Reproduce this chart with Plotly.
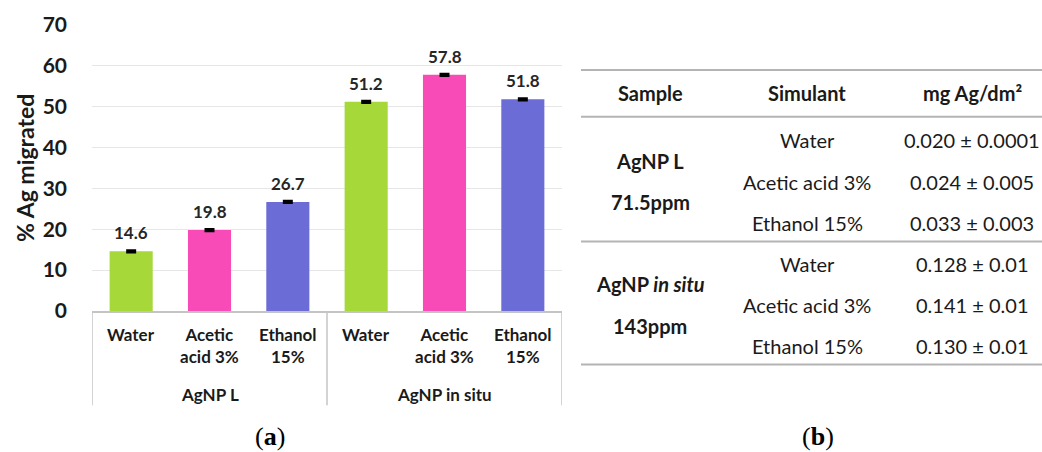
import plotly.graph_objects as go

# ---- data ----
samples = ["AgNP L", "AgNP in situ"]
simulant_ticks = ["Water", "Acetic<br>acid 3%", "Ethanol<br>15%"]
ag_migrated = [14.6, 19.8, 26.7, 51.2, 57.8, 51.8]
ag_error = [0.15, 0.15, 0.15, 0.15, 0.15, 0.15]
bar_colors = ["#A6D83A", "#F84BB8", "#6C6CD6"]
y_ticks = [0, 10, 20, 30, 40, 50, 60, 70]

table_header = ["Sample", "Simulant", "mg Ag/dm²"]
table_samples = ["<b>AgNP L</b>", "<b>AgNP <i>in situ</i></b>"]
table_conc = ["<b>71.5ppm</b>", "<b>143ppm</b>"]
table_simulants = ["Water", "Acetic acid 3%", "Ethanol 15%"]
table_mg = ["0.020 ± 0.0001", "0.024 ± 0.005", "0.033 ± 0.003",
            "0.128 ± 0.01", "0.141 ± 0.01", "0.130 ± 0.01"]

# ---- page geometry (pixels) ----
W, H = 1042, 452
L, R, T, B = 92, 562, 25, 311.5
FONT = "Lato"
TXT = "#1a1a1a"
GRID = "#e6e6e6"
RULE = "#c4c4c4"


def xp(px):
    return (px - L) / (R - L)


def yp(py):
    return (B - py) / (B - T)


def label(x, y, text, size, xref="paper", yref="paper", family=FONT,
          color=TXT, **kw):
    d = dict(x=x, y=y, xref=xref, yref=yref, text=text, showarrow=False,
             xanchor="center", yanchor="middle",
             font=dict(family=family, size=size, color=color))
    d.update(kw)
    return d


n_sim = len(simulant_ticks)
xs = list(range(len(ag_migrated)))
colors = [bar_colors[i % n_sim] for i in xs]

fig = go.Figure()
fig.add_trace(go.Bar(
    x=xs, y=ag_migrated,
    marker=dict(color=colors, line=dict(width=0)),
    width=0.55,
    error_y=dict(type="data", array=ag_error, visible=True,
                 color="#000000", thickness=3, width=5),
    hoverinfo="skip",
))

annotations = []
shapes = []

# value labels above bars
for x, v in zip(xs, ag_migrated):
    annotations.append(label(x, v, f"<b>{v:.1f}</b>", 17, xref="x", yref="y",
                             yanchor="bottom", yshift=6, color="#262626"))

# simulant tick labels and sample group labels
for x in xs:
    annotations.append(label(x, yp(323), f"<b>{simulant_ticks[x % n_sim]}</b>",
                             17, xref="x", yanchor="top"))
for g, name in enumerate(samples):
    cx = g * n_sim + (n_sim - 1) / 2
    annotations.append(label(cx, yp(395), f"<b>{name}</b>", 17, xref="x"))

# group divider lines below the axis
for g in range(len(samples) + 1):
    xb = g * n_sim - 0.5
    shapes.append(dict(type="line", xref="x", yref="paper", x0=xb, x1=xb,
                       y0=0, y1=yp(406), line=dict(color=RULE, width=1.5)))

# y-axis title
annotations.append(label(xp(25), 0.5, "<b>% Ag migrated</b>", 23, textangle=-90))

# panel letters
annotations.append(label(xp(270), yp(437), "(<b>a</b>)", 26,
                         family="Liberation Serif", color="#000"))
annotations.append(label(xp(818), yp(437), "(<b>b</b>)", 26,
                         family="Liberation Serif", color="#000"))

# ---- table ----
col_x = [650, 807, 972]
tab_x0, tab_x1 = 581, 1042
for y_line in [70, 117, 242, 365]:
    shapes.append(dict(type="line", xref="paper", yref="paper",
                       x0=xp(tab_x0), x1=xp(tab_x1), y0=yp(y_line), y1=yp(y_line),
                       line=dict(color="#b4b4b4", width=2)))

for cx, h in zip(col_x, table_header):
    annotations.append(label(xp(cx), yp(93), f"<b>{h}</b>", 20))

row_y0, row_dy = 140.7, 41.2
for i, val in enumerate(table_mg):
    ry = row_y0 + i * row_dy
    annotations.append(label(xp(col_x[1]), yp(ry), table_simulants[i % n_sim], 20))
    annotations.append(label(xp(col_x[2]), yp(ry), val, 20))

for g in range(len(table_samples)):
    base = row_y0 + g * n_sim * row_dy
    annotations.append(label(xp(col_x[0]), yp(base + row_dy / 2),
                             table_samples[g], 20))
    annotations.append(label(xp(col_x[0]), yp(base + 1.5 * row_dy),
                             table_conc[g], 20))

fig.update_layout(
    width=W, height=H,
    margin=dict(l=L, r=W - R, t=T, b=H - B, pad=0),
    paper_bgcolor="white", plot_bgcolor="white",
    showlegend=False,
    annotations=annotations,
    shapes=shapes,
    bargap=0.45,
    xaxis=dict(range=[-0.5, len(xs) - 0.5], showticklabels=False,
               showgrid=False, zeroline=False, showline=True,
               linecolor=RULE, linewidth=1.5, fixedrange=True),
    yaxis=dict(range=[0, 70], tickvals=y_ticks, showgrid=True,
               gridcolor=GRID, gridwidth=1, zeroline=False, showline=False,
               ticklabelstandoff=24,
               tickfont=dict(family=FONT, size=21, color=TXT, weight="bold"),
               fixedrange=True),
)

fig.write_html("out.html", config={"displayModeBar": False})
